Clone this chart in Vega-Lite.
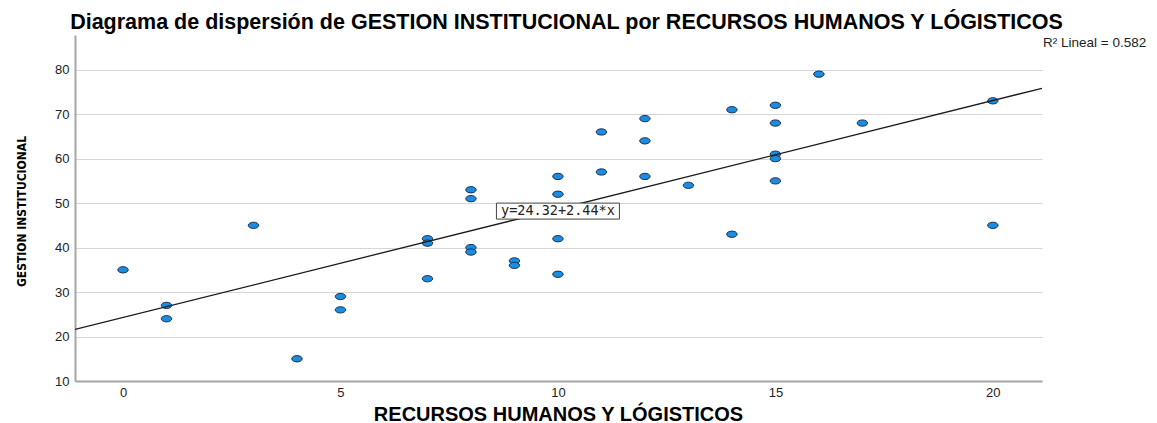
{
  "$schema": "https://vega.github.io/schema/vega-lite/v6.json",
  "autosize": "none",
  "width": 967,
  "height": 346,
  "padding": {"left": 75, "top": 35, "right": 115, "bottom": 42},
  "background": "white",
  "title": {
    "text": "Diagrama de dispersión de GESTION INSTITUCIONAL por RECURSOS HUMANOS Y LÓGISTICOS",
    "font": "Liberation Sans",
    "fontSize": 21.5,
    "fontWeight": "bold",
    "color": "#000000",
    "anchor": "middle",
    "frame": "group",
    "baseline": "middle",
    "offset": -9,
    "dx": 8
  },
  "config": {
    "view": {"stroke": null},
    "axis": {
      "labelFont": "Liberation Sans",
      "labelFontSize": 13,
      "labelColor": "#222222",
      "domainColor": "#a6a6a6",
      "domainWidth": 2,
      "ticks": false,
      "gridColor": "#d6d6d6",
      "gridWidth": 1,
      "titleColor": "#000000"
    }
  },
  "datasets": {
    "pts": [
      {"rrhh": 0, "gestion": 35}, {"rrhh": 1, "gestion": 27}, {"rrhh": 1, "gestion": 24},
      {"rrhh": 3, "gestion": 45}, {"rrhh": 4, "gestion": 15}, {"rrhh": 5, "gestion": 29},
      {"rrhh": 5, "gestion": 26}, {"rrhh": 7, "gestion": 42}, {"rrhh": 7, "gestion": 41},
      {"rrhh": 7, "gestion": 33}, {"rrhh": 8, "gestion": 53}, {"rrhh": 8, "gestion": 51},
      {"rrhh": 8, "gestion": 40}, {"rrhh": 8, "gestion": 39}, {"rrhh": 9, "gestion": 37},
      {"rrhh": 9, "gestion": 36}, {"rrhh": 10, "gestion": 56}, {"rrhh": 10, "gestion": 52},
      {"rrhh": 10, "gestion": 42}, {"rrhh": 10, "gestion": 34}, {"rrhh": 11, "gestion": 66},
      {"rrhh": 11, "gestion": 57}, {"rrhh": 12, "gestion": 69}, {"rrhh": 12, "gestion": 64},
      {"rrhh": 12, "gestion": 56}, {"rrhh": 13, "gestion": 54}, {"rrhh": 14, "gestion": 71},
      {"rrhh": 14, "gestion": 43}, {"rrhh": 15, "gestion": 72}, {"rrhh": 15, "gestion": 68},
      {"rrhh": 15, "gestion": 61}, {"rrhh": 15, "gestion": 60}, {"rrhh": 15, "gestion": 55},
      {"rrhh": 16, "gestion": 79}, {"rrhh": 17, "gestion": 68}, {"rrhh": 20, "gestion": 73},
      {"rrhh": 20, "gestion": 45}
    ],
    "notes": [
      {"eq": "y=24.32+2.44*x", "r2": "R² Lineal = 0.582"}
    ]
  },
  "layer": [
    {
      "data": {"name": "pts"},
      "mark": {
        "type": "point",
        "shape": "M-1,0A1,0.6 0 1,0 1,0A1,0.6 0 1,0 -1,0Z",
        "size": 110,
        "filled": true,
        "fill": "#1a8de3",
        "stroke": "#1c2f4c",
        "strokeWidth": 1,
        "opacity": 1
      },
      "encoding": {
        "x": {
          "field": "rrhh",
          "type": "quantitative",
          "scale": {"domain": [-1.104, 21.13], "nice": false, "zero": false},
          "axis": {
            "values": [0, 5, 10, 15, 20],
            "grid": false,
            "labelPadding": 5,
            "title": "RECURSOS HUMANOS Y LÓGISTICOS",
            "titleFont": "Liberation Sans",
            "titleFontSize": 20,
            "titleFontWeight": "bold",
            "titleX": 483,
            "titleY": 33,
            "titleBaseline": "middle",
            "titleAlign": "center"
          }
        },
        "y": {
          "field": "gestion",
          "type": "quantitative",
          "scale": {"domain": [10, 87.8], "nice": false, "zero": false},
          "axis": {
            "values": [10, 20, 30, 40, 50, 60, 70, 80],
            "grid": true,
            "labelPadding": 6,
            "title": "GESTION INSTITUCIONAL",
            "titleFont": "'DejaVu Sans Condensed', 'Liberation Sans'",
            "titleFontSize": 12,
            "titleFontWeight": "bold",
            "titleAngle": -90,
            "titleX": -54,
            "titleY": 176,
            "titleAlign": "center",
            "titleBaseline": "middle"
          }
        }
      }
    },
    {
      "data": {"name": "pts"},
      "transform": [
        {"regression": "gestion", "on": "rrhh", "method": "linear", "extent": [-1.104, 21.13]}
      ],
      "mark": {"type": "line", "color": "#1a1a1a", "strokeWidth": 1.3, "clip": true},
      "encoding": {
        "x": {"field": "rrhh", "type": "quantitative"},
        "y": {"field": "gestion", "type": "quantitative"}
      }
    },
    {
      "data": {"name": "notes"},
      "mark": {
        "type": "point",
        "shape": "M-1,-0.13H1V0.13H-1Z",
        "size": 15129,
        "filled": true,
        "fill": "white",
        "stroke": "#444444",
        "strokeWidth": 1,
        "opacity": 1
      },
      "encoding": {
        "x": {"datum": 10},
        "y": {"datum": 48.2}
      }
    },
    {
      "data": {"name": "notes"},
      "mark": {
        "type": "text",
        "font": "DejaVu Sans Mono",
        "fontSize": 13.5,
        "color": "#222222",
        "align": "center",
        "baseline": "middle"
      },
      "encoding": {
        "x": {"datum": 10},
        "y": {"datum": 48.2},
        "text": {"field": "eq"}
      }
    },
    {
      "data": {"name": "notes"},
      "mark": {
        "type": "text",
        "font": "Liberation Sans",
        "fontSize": 13.5,
        "color": "#222222",
        "align": "left",
        "baseline": "middle",
        "dx": 1,
        "clip": false
      },
      "encoding": {
        "x": {"datum": 21.13},
        "y": {"datum": 86},
        "text": {"field": "r2"}
      }
    }
  ]
}
